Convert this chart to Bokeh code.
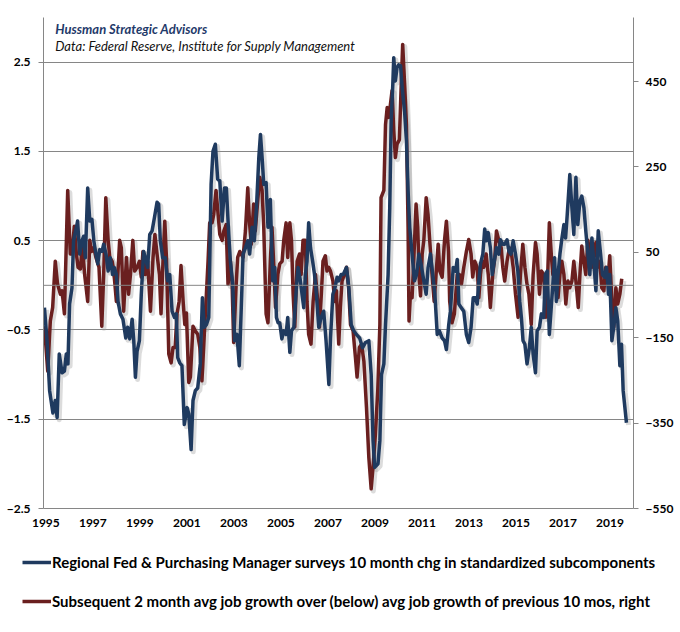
from bokeh.plotting import figure
from bokeh.models import Range1d, LinearAxis, FixedTicker, Span, Label, Legend, LegendItem
from bokeh.embed import file_html
from bokeh.resources import INLINE

# ---------------- data ----------------
x_ticks = [1995, 1997, 1999, 2001, 2003, 2005, 2007, 2009, 2011, 2013, 2015, 2017, 2019]
left_ticks = [-2.5, -1.5, -0.5, 0.5, 1.5, 2.5]
right_ticks = [-550, -350, -150, 50, 250, 450]

blue_year = [
    1994.94, 1995.05, 1995.16, 1995.30, 1995.40, 1995.48, 1995.57, 1995.69, 1995.79, 1995.87, 1995.94,
    1996.01, 1996.11, 1996.18, 1996.30, 1996.35, 1996.44, 1996.54, 1996.61, 1996.68, 1996.78, 1996.87, 1996.96,
    1997.04, 1997.13, 1997.21, 1997.29, 1997.39, 1997.46, 1997.56, 1997.65, 1997.74, 1997.84, 1997.91,
    1998.00, 1998.07, 1998.17, 1998.28, 1998.40, 1998.48, 1998.57, 1998.67, 1998.74, 1998.81, 1998.88, 1998.98,
    1999.06, 1999.16, 1999.23, 1999.33, 1999.42, 1999.52, 1999.62, 1999.73, 1999.80, 1999.87, 1999.97,
    2000.08, 2000.18, 2000.27, 2000.37, 2000.47, 2000.55, 2000.61, 2000.70, 2000.79, 2000.89,
    2001.01, 2001.08, 2001.18, 2001.26, 2001.36, 2001.46, 2001.57, 2001.66, 2001.74, 2001.83, 2001.93,
    2002.03, 2002.11, 2002.21, 2002.31, 2002.40, 2002.50, 2002.60, 2002.68, 2002.78, 2002.85, 2002.95,
    2003.03, 2003.13, 2003.23, 2003.39, 2003.49, 2003.59, 2003.67, 2003.77, 2003.87, 2003.96,
    2004.06, 2004.13, 2004.20, 2004.27, 2004.37, 2004.45, 2004.55, 2004.65, 2004.74, 2004.81, 2004.88, 2004.95,
    2005.04, 2005.12, 2005.22, 2005.29, 2005.38, 2005.45, 2005.55, 2005.65, 2005.73, 2005.83, 2005.90, 2005.97,
    2006.04, 2006.11, 2006.18, 2006.26, 2006.35, 2006.43, 2006.51, 2006.61, 2006.71, 2006.82, 2006.92,
    2007.04, 2007.11, 2007.21, 2007.29, 2007.39, 2007.46, 2007.56, 2007.65, 2007.79, 2007.89, 2007.99,
    2008.10, 2008.21, 2008.35, 2008.47, 2008.60, 2008.74, 2008.84, 2008.92, 2008.99,
    2009.06, 2009.13, 2009.21, 2009.28, 2009.38, 2009.45, 2009.56, 2009.63, 2009.69, 2009.76, 2009.80, 2009.87, 2009.94,
    2010.01, 2010.09, 2010.16, 2010.26, 2010.34, 2010.41, 2010.48, 2010.58, 2010.68, 2010.77, 2010.87, 2010.96,
    2011.08, 2011.18, 2011.26, 2011.36, 2011.46, 2011.55, 2011.65, 2011.74, 2011.86, 2011.96,
    2012.04, 2012.14,
    2012.21, 2012.33, 2012.43, 2012.50, 2012.57, 2012.67, 2012.78, 2012.89, 2012.99,
    2013.09, 2013.18, 2013.28, 2013.35, 2013.42, 2013.49, 2013.59, 2013.67, 2013.74, 2013.82, 2013.91, 2013.99,
    2014.08, 2014.17, 2014.27, 2014.34, 2014.44, 2014.52, 2014.62, 2014.70, 2014.79, 2014.88, 2014.98,
    2015.08, 2015.16, 2015.23, 2015.30, 2015.38, 2015.47, 2015.57, 2015.65, 2015.73, 2015.83, 2015.90,
    2016.00, 2016.08, 2016.18, 2016.25, 2016.33, 2016.42, 2016.50, 2016.58, 2016.64, 2016.72, 2016.79, 2016.87, 2016.94,
    2017.04, 2017.11, 2017.18, 2017.29, 2017.38, 2017.46, 2017.55, 2017.63, 2017.72, 2017.80, 2017.89, 2017.97,
    2018.06, 2018.14, 2018.23, 2018.31, 2018.40, 2018.50, 2018.60, 2018.68, 2018.77, 2018.85, 2018.94, 2018.99,
    2019.08, 2019.16, 2019.25, 2019.33, 2019.42, 2019.49, 2019.56, 2019.70,
]
blue_val = [
    -0.25, -0.62, -1.18, -1.43, -1.29, -1.48, -0.77, -0.98, -0.96, -0.77, -0.88,
    -0.21, -0.03, 0.50, 0.65, 0.72, 0.35, 0.50, 0.55, 0.31, 1.09, 0.72, 0.74,
    0.50, 0.35, 0.24, 0.40, 0.38, 0.46, 0.35, 0.16, 0.31, 0.12, 0.20,
    0.12, -0.18, -0.32, -0.38, -0.59, -0.47, -0.60, -0.38, -0.62, -1.03, -0.74, -0.62,
    -0.10, 0.38, 0.31, 0.20, 0.57, 0.61, 0.76, 0.93, 0.91, 0.50, 0.31,
    0.31, 0.05, 0.12, -0.29, -0.36, -0.32, -0.81, -0.87, -0.90, -1.56,
    -1.37, -1.44, -1.84, -1.29, -1.18, -1.15, -0.88, -0.14, -0.47, -0.44, -0.36,
    1.13, 1.50, 1.58, 1.19, 1.17, 0.72, 1.09, 1.09, 0.57, 0.27, 0.01,
    -0.62, -0.55, -0.90, 0.35, 0.42, 0.50, 0.35, 0.65, 0.50, 0.87,
    1.43, 1.69, 1.43, 1.13, 1.15, 0.65, 0.96, 0.05, 0.20, -0.36, -0.42, -0.42,
    -0.60, -0.51, -0.55, -0.36, -0.75, -0.51, -0.47, -0.06, 0.20, 0.05, -0.10, -0.25,
    0.12, 0.27, 0.70, 0.42, 0.27, 0.12, -0.10, -0.47, -0.36, -0.29, -0.62,
    -1.11, -0.59, -0.10, -0.04, 0.09, 0.05, 0.12, 0.12, 0.20, -0.03, -0.44,
    -0.51, -0.55, -0.59, -0.70, -0.64, -0.62, -1.00, -1.74, -2.04,
    -2.02, -2.00, -1.74, -1.00, -0.88, -0.44, 0.12, 0.87, 1.84, 2.25, 2.55, 2.29, 2.44,
    2.47, 2.46, 2.21, 1.95, 1.62, 1.06, 0.65, 0.35, 0.05, 0.12, 0.35, 0.24,
    0.05, -0.10, 0.20, 0.35, 0.12, -0.10, -0.55, -0.51, -0.59, -0.62,
    -0.72, -0.44,
    -0.29, 0.20, 0.16, 0.29, -0.21, -0.25, -0.29, -0.55, -0.64,
    -0.47, -0.14, -0.14, -0.21, 0.05, 0.24, 0.35, 0.63, 0.50, 0.59, 0.42, 0.12,
    0.27, 0.42, 0.35, 0.51, 0.46, 0.46, 0.51, 0.38, 0.35, 0.50, 0.35,
    0.16, -0.18, -0.36, -0.62, -0.66, -0.88, -0.70, -0.47, -0.77, -0.98, -0.51,
    -0.47, -0.32, -0.36, 0.12, 0.16, -0.55, -0.25, 0.05, 0.31, -0.18, 0.12, 0.35, 0.50,
    0.68, 0.53, 0.79, 1.24, 0.87, 0.57, 1.21, 0.68, 0.94, 1.00, 0.87, 0.61,
    0.35, 0.12, 0.53, 0.27, -0.06, 0.61, 0.35, 0.12, 0.09, 0.20, -0.10, 0.12,
    -0.62, -0.47, -0.25, -0.40, -0.90, -0.66, -1.18, -1.54,
]

red_year = [
    1994.94, 1995.08, 1995.19, 1995.29, 1995.40, 1995.50, 1995.62, 1995.69, 1995.79, 1995.93,
    1996.04, 1996.11, 1996.21, 1996.30, 1996.37, 1996.47, 1996.55, 1996.65, 1996.78, 1996.87, 1996.94,
    1997.04, 1997.13, 1997.26, 1997.38, 1997.46, 1997.55, 1997.65, 1997.72, 1997.82, 1997.89,
    1998.00, 1998.14, 1998.21, 1998.31, 1998.43, 1998.52, 1998.60, 1998.70, 1998.78, 1998.88, 1998.98,
    1999.06, 1999.13, 1999.23, 1999.33, 1999.45, 1999.56, 1999.64, 1999.73, 1999.83, 1999.90, 1999.99,
    2000.06, 2000.13, 2000.23, 2000.33, 2000.41, 2000.50, 2000.58, 2000.67, 2000.75, 2000.84, 2000.91, 2000.98,
    2001.08, 2001.15, 2001.26, 2001.36, 2001.46, 2001.55, 2001.64, 2001.74, 2001.83, 2001.90, 2001.97,
    2002.07, 2002.14, 2002.24, 2002.33, 2002.40, 2002.50, 2002.57, 2002.67, 2002.75, 2002.85, 2002.92, 2002.99,
    2003.09, 2003.16, 2003.25, 2003.39, 2003.49, 2003.59, 2003.67, 2003.74, 2003.84, 2003.91,
    2004.01, 2004.10, 2004.20, 2004.27, 2004.37, 2004.45, 2004.55, 2004.62, 2004.70, 2004.77, 2004.87, 2004.95,
    2005.05, 2005.12, 2005.22, 2005.29, 2005.38, 2005.45, 2005.52, 2005.59, 2005.69, 2005.79, 2005.86, 2005.94,
    2006.04, 2006.11, 2006.18, 2006.28, 2006.37, 2006.47, 2006.54, 2006.64, 2006.72, 2006.79, 2006.89, 2006.96,
    2007.03, 2007.11, 2007.21, 2007.29, 2007.36, 2007.46, 2007.53, 2007.60, 2007.70, 2007.79, 2007.88, 2007.96,
    2008.07, 2008.17, 2008.24, 2008.34, 2008.43, 2008.53, 2008.64, 2008.74, 2008.84, 2008.92,
    2009.02, 2009.12, 2009.21, 2009.26, 2009.38, 2009.45, 2009.52, 2009.59, 2009.66, 2009.73, 2009.80, 2009.87, 2009.94,
    2010.04, 2010.11, 2010.18, 2010.27, 2010.34, 2010.41, 2010.45, 2010.51, 2010.58, 2010.65, 2010.75, 2010.82, 2010.89, 2010.94,
    2011.01, 2011.08, 2011.18, 2011.26, 2011.33, 2011.43, 2011.52, 2011.60, 2011.69, 2011.76, 2011.86, 2011.96,
    2012.04, 2012.13, 2012.18, 2012.28, 2012.38, 2012.50, 2012.59, 2012.68, 2012.78, 2012.89, 2012.99,
    2013.09, 2013.16, 2013.25, 2013.35, 2013.42, 2013.49, 2013.56, 2013.63, 2013.73, 2013.82, 2013.91,
    2014.01, 2014.10, 2014.17, 2014.27, 2014.37, 2014.44, 2014.52, 2014.62, 2014.72, 2014.81, 2014.88, 2014.98,
    2015.09, 2015.19, 2015.29, 2015.38, 2015.47, 2015.55, 2015.65, 2015.73, 2015.83, 2015.90,
    2016.00, 2016.08, 2016.18, 2016.27, 2016.35, 2016.42, 2016.51, 2016.57, 2016.64, 2016.72, 2016.79, 2016.87, 2016.95,
    2017.04, 2017.12, 2017.21, 2017.29, 2017.38, 2017.46, 2017.55, 2017.65, 2017.72, 2017.80, 2017.89, 2017.97,
    2018.06, 2018.14, 2018.23, 2018.31, 2018.40, 2018.48, 2018.57, 2018.65, 2018.74, 2018.82, 2018.91, 2018.99,
    2019.08, 2019.16, 2019.25, 2019.33, 2019.42, 2019.50,
]
red_val = [
    -123, -228, -111, -79, 29, -25, -48, -40, -94, 195,
    46, 46, 111, 46, 15, 11, 69, -2, -65, 78, 52,
    61, 38, 15, -123, -2, 178, 78, 38, 29, 6,
    -65, 78, 61, -88, 38, -48, -2, 78, 6, 15, 29,
    -8, 52, -2, 29, -88, 38, 92, 46, -2, -94, 38,
    123, 38, -188, -209, -173, -173, -94, -65, 19, -65, -119, -92,
    -255, -242, -123, -134, -142, -173, -251, -142, -48, 29, 119,
    119, 138, 195, 138, 92, 78, 100, 115, -25, 29, -17, -161,
    -33, 38, 52, 38, 100, 201, 115, 69, 163, 100,
    169, 226, 195, 109, -94, -115, 29, 109, 15, -79, -2, 23,
    29, 78, 119, 38, 119, 78, -48, -125, 29, 46, -2, 78,
    78, -65, -142, -165, -65, -2, -48, -125, -48, 29, 42, 6,
    15, 6, -17, -65, -40, -165, -79, -17, -2, 15, -33, -119,
    -134, -196, -242, -173, -165, -205, -313, -430, -504, -453,
    -376, -274, -119, 178, 195, 349, 389, 366, 397, 429, 335, 272, 303,
    314, 429, 537, 435, 349, 109, -111, -48, -56, 29, 163, 109, -17, -52,
    46, 78, 178, 138, 78, -2, -65, -2, 69, 6, -8, 78,
    123, 52, -65, -115, -94, -2, -2, -25, 15, 52, 80,
    46, -8, 29, 15, -56, -2, 29, 15, 46, -2, -79,
    -2, 38, 100, 78, 61, 15, -17, 29, 61, 46, 15, -48,
    -102, -2, 69, 15, -25, -48, -119, -2, 73, 46,
    -48, 6, -2, -102, -2, 119, 38, -2, 6, -17, -56, -2, 29,
    -2, -71, -17, -33, -17, 29, -17, -79, -2, 65, 29, -2,
    78, 46, 15, 46, 73, 15, 29, -33, -40, 15, -17, 42,
    -65, -125, -33, -71, -48, -12,
]

assert len(blue_year) == len(blue_val), (len(blue_year), len(blue_val))
assert len(red_year) == len(red_val), (len(red_year), len(red_val))

title_1 = "Hussman Strategic Advisors"
title_2 = "Data: Federal Reserve, Institute for Supply Management"
label_blue = "Regional Fed & Purchasing Manager surveys 10 month chg in standardized subcomponents"
label_red = "Subsequent 2 month avg job growth over (below) avg job growth of previous 10 mos, right"

# ---------------- styling ----------------
BLUE = "#1F3A5F"
RED = "#6A1F1F"
GRID = "#868686"
FONT = "Lato"

X0, X1 = 1994.9, 2020.0
L0, L1 = -2.5, 3.0
R0, R1 = -550, 600

p = figure(width=680, height=540, output_backend="svg", toolbar_location=None,
           x_range=Range1d(X0, X1), y_range=Range1d(L0, L1),
           min_border_left=43, min_border_right=47, min_border_top=17, min_border_bottom=32)
p.outline_line_color = None
p.background_fill_color = "white"
p.border_fill_color = "white"

# secondary (right) axis range, plus slightly shifted ranges used for soft drop shadows
SH_X = 0.09
SH_L = 0.025
SH_R = 5.0
p.extra_y_ranges = {
    "right": Range1d(R0, R1),
    "sh_left": Range1d(L0 + SH_L, L1 + SH_L),
    "sh_right": Range1d(R0 + SH_R, R1 + SH_R),
}
p.extra_x_ranges = {"sh_x": Range1d(X0 - SH_X, X1 - SH_X)}

right_axis = LinearAxis(y_range_name="right", ticker=FixedTicker(ticks=right_ticks))
p.add_layout(right_axis, "right")

p.xaxis.ticker = FixedTicker(ticks=x_ticks)
p.yaxis[0].ticker = FixedTicker(ticks=left_ticks)

for ax in p.axis:
    ax.axis_line_color = GRID
    ax.axis_line_width = 1
    ax.major_tick_line_color = GRID
    ax.minor_tick_line_color = None
    ax.major_tick_in = 0
    ax.major_label_text_font = FONT
    ax.major_label_text_font_style = "bold"
    ax.major_label_text_font_size = "12px"
    ax.major_label_text_color = "black"

p.xaxis.major_tick_out = 0
p.xaxis.major_label_standoff = 10
p.yaxis[0].major_tick_out = 5
p.yaxis[0].major_label_standoff = 8
right_axis.major_tick_out = 5
right_axis.major_label_standoff = 7

p.xgrid.visible = False
p.ygrid.ticker = FixedTicker(ticks=left_ticks)
p.ygrid.grid_line_color = GRID
p.ygrid.grid_line_width = 1

p.add_layout(Span(location=0, dimension="width", line_color=GRID, line_width=1))

# shadows
p.line(blue_year, blue_val, x_range_name="sh_x", y_range_name="sh_left",
       line_color="#9a9a9a", line_alpha=0.35, line_width=5, line_join="round")
p.line(red_year, red_val, x_range_name="sh_x", y_range_name="sh_right",
       line_color="#9a9a9a", line_alpha=0.35, line_width=5, line_join="round")

# main series
p.line(red_year, red_val, y_range_name="right", line_color=RED, line_width=3.5, line_join="round")
p.line(blue_year, blue_val, line_color=BLUE, line_width=3.5, line_join="round")

p.add_layout(Label(x=1995.4, y=2.87, text=title_1, text_font=FONT, text_font_style="bold italic",
                   text_font_size="13px", text_color="#1F3A6A", text_baseline="alphabetic"))
p.add_layout(Label(x=1995.4, y=2.68, text=title_2, text_font=FONT, text_font_style="italic",
                   text_font_size="13px", text_color="#111111", text_baseline="alphabetic"))

# ---------------- legend strip below the chart (separate root, full-width frame) ----------------
lf = figure(width=680, height=92, output_backend="svg", toolbar_location=None,
            x_range=Range1d(0, 1), y_range=Range1d(0, 1),
            x_axis_type=None, y_axis_type=None,
            min_border_left=0, min_border_right=0, min_border_top=0, min_border_bottom=0)
lf.outline_line_color = None
lf.grid.visible = False
lf.background_fill_color = "white"
lf.border_fill_color = "white"
# legend keys only: these sit outside the (0..1) view, so only their legend swatches show
lg_blue = lf.line(x=[5, 6], y=[5, 6], line_color=BLUE, line_width=3.5)
lg_red = lf.line(x=[5, 6], y=[5, 6], line_color=RED, line_width=3.5)

legend = Legend(items=[LegendItem(label=label_blue, renderers=[lg_blue]),
                       LegendItem(label=label_red, renderers=[lg_red])],
                location=(22, 21), orientation="vertical",
                label_text_font=FONT, label_text_font_style="bold", label_text_font_size="15px",
                label_text_color="black", glyph_width=29, glyph_height=20, label_height=20,
                label_standoff=1, spacing=19, padding=0, margin=0,
                border_line_color=None, background_fill_alpha=0)
lf.add_layout(legend, "center")

open("out.html", "w").write(file_html([p, lf], INLINE))
